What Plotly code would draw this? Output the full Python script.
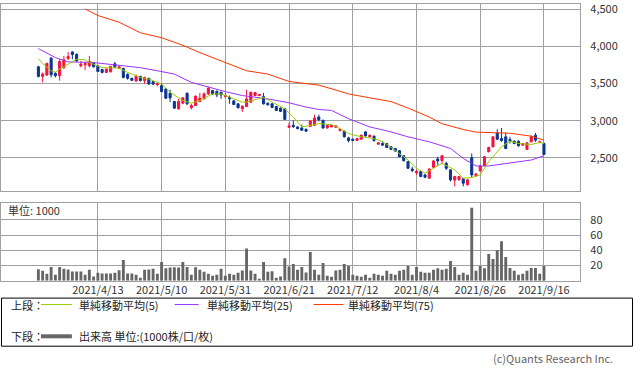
import plotly.graph_objects as go

# ---------------- data ----------------
dates = [
    "2021/3/24", "2021/3/25", "2021/3/26", "2021/3/29", "2021/3/30", "2021/3/31",
    "2021/4/1", "2021/4/2", "2021/4/5", "2021/4/6", "2021/4/7", "2021/4/8", "2021/4/9", "2021/4/12",
    "2021/4/13", "2021/4/14", "2021/4/15", "2021/4/16", "2021/4/19", "2021/4/20", "2021/4/21",
    "2021/4/22", "2021/4/23", "2021/4/26", "2021/4/27", "2021/4/28", "2021/4/30",
    "2021/5/6", "2021/5/7", "2021/5/10", "2021/5/11", "2021/5/12", "2021/5/13", "2021/5/14",
    "2021/5/17", "2021/5/18", "2021/5/19", "2021/5/20", "2021/5/21", "2021/5/24", "2021/5/25",
    "2021/5/26", "2021/5/27", "2021/5/28", "2021/5/31",
    "2021/6/1", "2021/6/2", "2021/6/3", "2021/6/4", "2021/6/7", "2021/6/8", "2021/6/9", "2021/6/10",
    "2021/6/11", "2021/6/14", "2021/6/15", "2021/6/16", "2021/6/17", "2021/6/18", "2021/6/21",
    "2021/6/22", "2021/6/23", "2021/6/24", "2021/6/25", "2021/6/28", "2021/6/29", "2021/6/30",
    "2021/7/1", "2021/7/2", "2021/7/5", "2021/7/6", "2021/7/7", "2021/7/8", "2021/7/9", "2021/7/12",
    "2021/7/13", "2021/7/14", "2021/7/15", "2021/7/16", "2021/7/19", "2021/7/20", "2021/7/21",
    "2021/7/26", "2021/7/27", "2021/7/28", "2021/7/29", "2021/7/30",
    "2021/8/2", "2021/8/3", "2021/8/4", "2021/8/5", "2021/8/6", "2021/8/10", "2021/8/11", "2021/8/12",
    "2021/8/13", "2021/8/16", "2021/8/17", "2021/8/18", "2021/8/19", "2021/8/20", "2021/8/23",
    "2021/8/24", "2021/8/25", "2021/8/26", "2021/8/27", "2021/8/30", "2021/8/31",
    "2021/9/1", "2021/9/2", "2021/9/3", "2021/9/6", "2021/9/7", "2021/9/8", "2021/9/9", "2021/9/10",
    "2021/9/13", "2021/9/14", "2021/9/15", "2021/9/16",
]

opens = [
    3727, 3598, 3616, 3843, 3638, 3607, 3718, 3839, 3928, 3897,
    3741, 3754, 3741, 3781, 3741, 3692, 3651, 3660, 3768, 3709,
    3705, 3625, 3571, 3535, 3598, 3540, 3571, 3526, 3486, 3473,
    3428, 3370, 3258, 3160, 3236, 3370, 3174, 3205, 3258, 3294,
    3361, 3406, 3397, 3383, 3325, 3316, 3267, 3227, 3160, 3191,
    3250, 3339, 3339, 3325, 3236, 3227, 3191, 3169, 3160, 2910,
    2937, 2915, 2901, 2883, 2923, 2937, 3049, 3004, 2901, 2915,
    2910, 2865, 2857, 2767, 2749, 2732, 2749, 2848, 2781, 2790,
    2682, 2691, 2691, 2647, 2624, 2593, 2526, 2446, 2347, 2294,
    2312, 2267, 2222, 2370, 2481, 2459, 2423, 2334, 2196, 2200,
    2213, 2133, 2499, 2254, 2321, 2392, 2580, 2647, 2834, 2758,
    2781, 2745, 2723, 2723, 2669, 2611, 2714, 2803, 2705, 2691,
]
highs = [
    3741, 3651, 3785, 3861, 3660, 3830, 3875, 3928, 3937, 3906,
    3808, 3794, 3875, 3790, 3750, 3700, 3705, 3741, 3794, 3741,
    3714, 3638, 3580, 3625, 3607, 3593, 3580, 3535, 3517, 3504,
    3437, 3419, 3267, 3294, 3316, 3379, 3227, 3339, 3374, 3383,
    3460, 3415, 3406, 3392, 3374, 3339, 3276, 3236, 3205, 3419,
    3392, 3388, 3361, 3374, 3245, 3236, 3200, 3178, 3169, 2973,
    3004, 2923, 2946, 2892, 3004, 3080, 3080, 3013, 2946, 2946,
    2937, 2892, 2870, 2781, 2758, 2767, 2812, 2857, 2812, 2799,
    2709, 2723, 2700, 2656, 2633, 2602, 2535, 2455, 2379, 2334,
    2321, 2276, 2356, 2468, 2513, 2535, 2446, 2343, 2254, 2254,
    2222, 2209, 2557, 2289, 2397, 2522, 2647, 2790, 2883, 2901,
    2839, 2781, 2732, 2732, 2700, 2709, 2803, 2834, 2727, 2705,
]
lows = [
    3584, 3517, 3607, 3584, 3584, 3540, 3696, 3821, 3830, 3794,
    3718, 3683, 3718, 3718, 3656, 3638, 3642, 3651, 3714, 3700,
    3571, 3553, 3535, 3526, 3531, 3495, 3486, 3482, 3464, 3383,
    3294, 3250, 3160, 3147, 3223, 3210, 3151, 3196, 3250, 3285,
    3348, 3352, 3316, 3294, 3303, 3227, 3210, 3165, 3116, 3183,
    3241, 3330, 3330, 3218, 3205, 3169, 3129, 3116, 3008, 2901,
    2901, 2883, 2865, 2848, 2915, 2928, 2990, 2892, 2892, 2910,
    2901, 2857, 2772, 2705, 2723, 2723, 2740, 2785, 2772, 2714,
    2673, 2660, 2629, 2602, 2580, 2504, 2446, 2347, 2303, 2267,
    2236, 2222, 2213, 2356, 2392, 2410, 2334, 2178, 2111, 2191,
    2111, 2124, 2231, 2245, 2312, 2383, 2571, 2638, 2736, 2714,
    2615, 2691, 2682, 2651, 2660, 2602, 2705, 2714, 2696, 2535,
]
closes = [
    3598, 3629, 3772, 3620, 3607, 3799, 3821, 3866, 3893, 3808,
    3763, 3772, 3799, 3727, 3665, 3651, 3696, 3732, 3727, 3727,
    3584, 3571, 3544, 3598, 3540, 3584, 3495, 3495, 3500, 3392,
    3303, 3308, 3169, 3258, 3308, 3227, 3205, 3330, 3303, 3361,
    3437, 3361, 3348, 3348, 3339, 3294, 3218, 3174, 3196, 3294,
    3383, 3379, 3352, 3227, 3214, 3178, 3138, 3125, 3017, 2928,
    2919, 2892, 2870, 2857, 2995, 3035, 3013, 2901, 2937, 2937,
    2928, 2883, 2781, 2732, 2732, 2758, 2803, 2794, 2803, 2732,
    2700, 2669, 2638, 2611, 2589, 2513, 2459, 2356, 2325, 2312,
    2245, 2236, 2347, 2455, 2455, 2526, 2356, 2200, 2245, 2245,
    2155, 2200, 2267, 2280, 2388, 2513, 2638, 2781, 2749, 2732,
    2624, 2723, 2691, 2660, 2691, 2700, 2781, 2736, 2714, 2544,
]
volume = [
    15.1, 13.0, 9.1, 18.1, 7.8, 18.1, 15.6, 14.7, 12.1, 12.1,
    12.1, 7.8, 14.3, 5.6, 10.4, 9.5, 9.5, 9.5, 10.4, 13.8,
    27.2, 9.5, 9.5, 7.8, 3.9, 14.3, 14.7, 15.6, 9.1, 24.6,
    16.4, 17.3, 17.7, 17.3, 24.6, 18.1, 7.8, 17.7, 14.3, 11.7,
    9.1, 6.5, 7.8, 15.6, 6.5, 9.1, 7.8, 10.4, 13.4, 42.3,
    13.4, 9.1, 2.6, 24.6, 11.7, 12.5, 3.9, 5.6, 29.4, 18.6,
    22.0, 14.3, 18.1, 10.8, 37.6, 14.3, 7.8, 23.3, 6.5, 5.2,
    13.4, 14.3, 22.0, 19.4, 7.8, 6.5, 5.2, 7.8, 3.9, 9.1,
    7.8, 6.5, 13.0, 9.1, 7.8, 13.0, 14.3, 19.4, 7.8, 18.1,
    11.7, 10.4, 10.4, 14.3, 16.4, 14.3, 15.6, 25.9, 18.1, 7.8,
    10.4, 7.8, 95.9, 13.0, 19.4, 16.4, 35.0, 28.5, 40.2, 51.8,
    31.1, 16.8, 13.0, 7.8, 9.1, 13.0, 16.8, 16.8, 9.1, 19.4,
]

# moving averages (trading-day index, value)
ma5_idx = [0, 1, 3, 4, 5, 7, 9, 11, 12, 15, 17, 19, 21, 24, 26, 29, 31, 34, 36, 38,
           41, 43, 45, 48, 49, 52, 53, 55, 58, 60, 62, 64, 66, 69, 71, 73, 76, 78, 80, 82,
           84, 87, 89, 91, 93, 95, 98, 100, 102, 104, 106, 109, 111, 113, 116, 118, 119]
ma5_val = [3839, 3772, 3674, 3651, 3696, 3763, 3830, 3821, 3785, 3718, 3709, 3709, 3651, 3584,
           3562, 3495, 3383, 3272, 3236, 3272, 3361, 3361, 3316, 3250, 3250, 3294, 3316, 3250,
           3160, 3049, 2915, 2937, 2959, 2946, 2892, 2825, 2781, 2767, 2740, 2680, 2600, 2470,
           2356, 2289, 2356, 2423, 2334, 2222, 2231, 2267, 2446, 2647, 2723, 2691, 2678, 2705, 2691]
ma25_idx = [0, 4, 7, 13, 20, 24, 28, 32, 36, 40, 44, 48, 54, 59, 63, 66, 69, 73, 78, 83,
            87, 92, 97, 100, 103, 106, 111, 116, 119]
ma25_val = [3973, 3852, 3794, 3785, 3741, 3715, 3674, 3629, 3517, 3451, 3392, 3339, 3294, 3241,
            3183, 3151, 3138, 3026, 2915, 2848, 2781, 2714, 2624, 2490, 2388, 2388, 2423, 2468, 2526]
ma75_idx = [11, 14, 19, 24, 29, 34, 38, 44, 49, 54, 59, 63, 66, 69, 73, 78, 83, 87, 92, 95,
            100, 103, 108, 111, 116, 119]
ma75_val = [4509, 4420, 4330, 4187, 4120, 4018, 3919, 3785, 3674, 3629, 3530, 3500, 3480, 3430,
            3361, 3308, 3258, 3170, 3049, 2958, 2880, 2845, 2840, 2830, 2790, 2736]

tick_dates = ["2021/4/13", "2021/5/10", "2021/5/31", "2021/6/21", "2021/7/12",
              "2021/8/4", "2021/8/26", "2021/9/16"]
price_ticks = [2500, 3000, 3500, 4000, 4500]
vol_ticks = [20, 40, 60, 80]

# ---------------- styling ----------------
W, H = 633, 372
def fx(p):
    return p / W
def fy(p):
    return 1 - p / H

UP = "#f5123f"
DN = "#0b3590"
C5 = "#99cc00"
C25 = "#9933ff"
C75 = "#ff3300"
GRID = "#a0a0a0"
FONT = "Noto Sans CJK JP"
TXT = "#333333"

fig = go.Figure()
fig.add_trace(go.Candlestick(
    x=dates, open=opens, high=highs, low=lows, close=closes,
    increasing=dict(line=dict(color=UP, width=1), fillcolor=UP),
    decreasing=dict(line=dict(color=DN, width=1), fillcolor=DN),
    whiskerwidth=0, hoverinfo="skip", showlegend=False, xaxis="x", yaxis="y"))
for idx, vals, col in [(ma75_idx, ma75_val, C75), (ma25_idx, ma25_val, C25), (ma5_idx, ma5_val, C5)]:
    fig.add_trace(go.Scatter(x=[dates[i] for i in idx], y=vals, mode="lines",
                             line=dict(color=col, width=1), showlegend=False,
                             hoverinfo="skip", xaxis="x", yaxis="y"))
fig.add_trace(go.Bar(x=dates, y=volume, marker=dict(color="#666666", line=dict(width=0)),
                     width=0.68, showlegend=False, hoverinfo="skip", xaxis="x2", yaxis="y2"))

xr = [-8.8, 127.5]
common_x = dict(type="category", categoryorder="array", categoryarray=dates, range=xr,
                tickvals=tick_dates, ticktext=tick_dates, showgrid=True, gridcolor=GRID,
                gridwidth=1, showline=True, mirror=True, linecolor=GRID, linewidth=1,
                zeroline=False, ticks="", domain=[0, fx(580)], fixedrange=True)
common_y = dict(side="right", showgrid=True, gridcolor=GRID, gridwidth=1, showline=True,
                mirror=True, linecolor=GRID, linewidth=1, zeroline=False, ticks="",
                ticklabelstandoff=7, ticklabeloverflow="allow",
                tickfont=dict(family=FONT, size=11, color=TXT), fixedrange=True)

fig.update_layout(
    width=W, height=H, margin=dict(l=0, r=0, t=0, b=0),
    paper_bgcolor="white", plot_bgcolor="white", showlegend=False,
    boxgap=0.3,
    xaxis=dict(common_x, anchor="y", showticklabels=False, rangeslider=dict(visible=False)),
    yaxis=dict(common_y, domain=[fy(190), fy(1)], range=[2043, 4576], anchor="x",
               tickvals=price_ticks, tickformat=","),
    xaxis2=dict(common_x, anchor="y2", showticklabels=True, ticklabelstandoff=-1,
                tickfont=dict(family=FONT, size=11, color=TXT)),
    yaxis2=dict(common_y, domain=[fy(280), fy(202)], range=[0, 101.6], anchor="x2",
                tickvals=vol_ticks),
)

ann = []
def text(x, y, s, anchor="left", size=11, color=TXT):
    ann.append(dict(x=fx(x), y=fy(y), xref="paper", yref="paper", text=s, showarrow=False,
                    xanchor=anchor, yanchor="middle", font=dict(family=FONT, size=size, color=color)))

text(5, 209, "単位: 1000")
text(8, 304, "上段：", color="#222")
text(76, 304, "単純移動平均(5)", color="#222")
text(204, 304, "単純移動平均(25)", color="#222")
text(346, 304, "単純移動平均(75)", color="#222")
text(8, 336, "下段：", color="#222")
text(76, 336, "出来高 単位:(1000株/口/枚)", color="#222")
text(615, 358, "(c)Quants Research Inc.", anchor="right", size=11, color="#666666")

shapes = [
    dict(type="rect", xref="paper", yref="paper", x0=fx(0.5), x1=fx(632.5), y0=fy(346), y1=fy(297.5),
         line=dict(color="#000000", width=1)),
    dict(type="line", xref="paper", yref="paper", x0=fx(40), x1=fx(71), y0=fy(304), y1=fy(304),
         line=dict(color=C5, width=1)),
    dict(type="line", xref="paper", yref="paper", x0=fx(174), x1=fx(198), y0=fy(304), y1=fy(304),
         line=dict(color=C25, width=1)),
    dict(type="line", xref="paper", yref="paper", x0=fx(313), x1=fx(343), y0=fy(304), y1=fy(304),
         line=dict(color=C75, width=1)),
    dict(type="line", xref="paper", yref="paper", x0=fx(40), x1=fx(71), y0=fy(336), y1=fy(336),
         line=dict(color="#666666", width=4)),
]
fig.update_layout(annotations=ann, shapes=shapes)

fig.write_html("out.html", config={"displayModeBar": False, "staticPlot": True},
               post_script="document.body.style.margin='0';document.body.style.overflow='hidden';")
